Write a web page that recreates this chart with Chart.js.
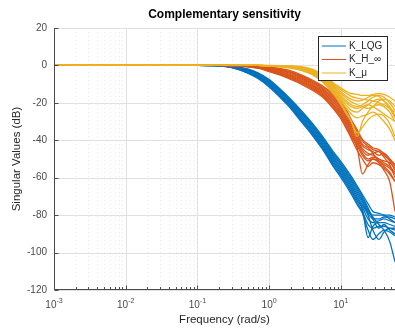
<!DOCTYPE html>
<html lang="en">
<head>
    <meta charset="UTF-8">
    <title>Complementary sensitivity</title>
    <script src="https://cdn.jsdelivr.net/npm/chart.js"></script>
    <style>
        body { margin: 0; background: #ffffff; }
        canvas { display: block; }
    </style>
</head>
<body>
    <canvas id="sigmaChart" width="395" height="330"></canvas>
    <script>
        // Frequency grid (rad/s) shared by every singular value curve
        const freq = [0.001, 0.1, 0.2, 0.3, 0.5, 0.7, 1, 1.4, 2, 2.8, 4, 5.6, 8, 10, 12, 14, 17, 20, 24, 28, 34, 40, 48, 57];

        // Singular values (dB), one row per curve
        const lqgCurves = [
            [0, 0, -0.2, -1.2, -4.1, -7.0, -11.5, -16.8, -23.0, -30.0, -37.3, -45.0, -54.5, -59.8, -64.5, -68.8, -74.5, -79, -88, -93, -90, -88, -89, -91],
            [0, 0, -0.2, -1.1, -3.9, -6.7, -11.1, -16.3, -22.4, -29.3, -36.5, -44.2, -53.6, -58.8, -63.5, -67.7, -73.4, -78, -85, -87, -86, -86, -87, -88],
            [0, 0, -0.2, -1.0, -3.6, -6.3, -10.6, -15.8, -21.9, -28.7, -35.8, -43.4, -52.7, -57.9, -62.5, -66.6, -72.3, -77, -92, -86, -84, -84, -85, -86],
            [0, 0, -0.1, -0.9, -3.4, -6.0, -10.2, -15.3, -21.3, -28.0, -35.1, -42.7, -51.8, -56.9, -61.5, -65.6, -71.2, -75.7, -82, -84, -83, -82, -83, -84],
            [0, 0, -0.1, -0.8, -3.1, -5.7, -9.7, -14.8, -20.8, -27.3, -34.4, -41.9, -50.9, -56.0, -60.5, -64.5, -70.1, -74.6, -80, -88, -93, -89, -87, -87],
            [0, 0, -0.1, -0.8, -2.9, -5.3, -9.3, -14.2, -20.2, -26.7, -33.6, -41.1, -50.1, -55.0, -59.5, -63.5, -68.9, -73.4, -79, -82, -82, -81, -81, -82],
            [0, 0, -0.1, -0.7, -2.6, -5.0, -8.8, -13.7, -19.7, -26.0, -32.9, -40.3, -49.2, -54.1, -58.5, -62.4, -67.8, -72.3, -78, -81, -85, -88, -94, -105],
            [0, 0, 0, -0.6, -2.4, -4.7, -8.4, -13.2, -19.1, -25.3, -32.2, -39.6, -48.3, -53.1, -57.5, -61.4, -66.7, -71.2, -77, -80, -80, -80, -80, -81],
            [0, 0, 0, -0.5, -2.1, -4.3, -7.9, -12.7, -18.6, -24.7, -31.5, -38.8, -47.4, -52.2, -56.5, -60.3, -65.6, -70.1, -76, -82, -87, -85, -88, -90],
            [0, 0, 0, -0.4, -1.9, -4.0, -7.5, -12.3, -18.0, -24.0, -30.8, -38.0, -46.5, -51.3, -55.5, -59.3, -64.5, -69, -74, -78, -79, -80, -82, -84]
        ];
        const hinfCurves = [
            [0, 0, 0, -0.2, -0.7, -1.5, -3.3, -5.1, -7.5, -10.0, -13.3, -17.0, -23.5, -28.5, -34.0, -39.0, -45.5, -50, -54, -52, -53, -55, -58, -62],
            [0, 0, 0, -0.2, -0.6, -1.4, -3.0, -4.7, -7.0, -9.4, -12.6, -16.3, -22.6, -27.5, -32.9, -37.9, -44.3, -58, -53, -50, -51, -53, -55, -58],
            [0, 0, 0, -0.2, -0.6, -1.2, -2.7, -4.3, -6.5, -8.9, -12.0, -15.7, -21.7, -26.5, -31.8, -36.8, -43.1, -48, -51, -50, -52, -56, -62, -78],
            [0, 0, 0, -0.1, -0.5, -1.1, -2.4, -3.9, -6.0, -8.3, -11.4, -15.0, -20.8, -25.5, -30.7, -35.7, -41.8, -47, -50, -49, -50, -52, -54, -57],
            [0, 0, 0, -0.1, -0.4, -1.0, -2.1, -3.5, -5.5, -7.8, -10.8, -14.3, -19.9, -24.5, -29.6, -34.6, -40.6, -45.5, -48, -47, -46, -49, -53, -60],
            [0, 0, 0, -0.1, -0.4, -0.8, -1.9, -3.1, -5.0, -7.2, -10.2, -13.7, -19.1, -23.5, -28.4, -33.4, -39.4, -44.5, -47, -48, -50, -51, -52, -55],
            [0, 0, 0, -0.1, -0.3, -0.7, -1.6, -2.7, -4.4, -6.7, -9.6, -13.0, -18.2, -22.5, -27.3, -32.3, -38.2, -43, -45, -46, -48, -47, -50, -54],
            [0, 0, 0, 0, -0.2, -0.6, -1.3, -2.3, -3.9, -6.1, -9.0, -12.3, -17.3, -21.5, -26.2, -31.2, -36.9, -42, -44, -47, -51, -54, -57, -62],
            [0, 0, 0, 0, -0.2, -0.4, -1.0, -1.9, -3.4, -5.6, -8.4, -11.7, -16.4, -20.5, -25.1, -30.1, -35.7, -40.5, -43, -45, -46, -48, -51, -56],
            [0, 0, 0, 0, -0.1, -0.3, -0.8, -1.6, -2.9, -5.0, -7.8, -11.0, -15.5, -19.5, -24.0, -29.0, -34.5, -39.5, -42, -44, -45, -47, -50, -53]
        ];
        const muCurves = [
            [0, 0, 0, 0, 0, 0, -0.3, -0.7, -1.4, -2.6, -5.0, -9.0, -15.5, -21, -26, -30, -36, -33, -29, -27, -26, -27, -31, -38],
            [0, 0, 0, 0, 0, 0, -0.3, -0.6, -1.3, -2.4, -4.7, -8.6, -14.8, -20, -25, -30, -38, -30, -25, -22, -21, -22, -25, -30],
            [0, 0, 0, 0, 0, 0, -0.3, -0.6, -1.1, -2.2, -4.3, -8.1, -14.2, -19, -23, -26, -28, -27, -26, -25, -27, -30, -34, -40],
            [0, 0, 0, 0, 0, 0, -0.2, -0.5, -1.0, -2.0, -4.0, -7.7, -13.5, -18, -21.5, -24, -25, -23, -21, -19, -18, -19, -22, -27],
            [0, 0, 0, 0, 0, 0, -0.2, -0.4, -0.9, -1.7, -3.7, -7.2, -12.8, -17, -20, -22, -23, -22, -21, -22, -24, -26, -28, -30],
            [0, 0, 0, 0, 0, 0, -0.2, -0.4, -0.7, -1.5, -3.3, -6.8, -12.2, -16, -19, -21, -22, -21, -19, -17, -16, -17, -20, -24],
            [0, 0, 0, 0, 0, 0, -0.1, -0.3, -0.6, -1.3, -3.0, -6.3, -11.5, -15, -17.5, -19.5, -21, -22, -23, -22, -19, -18, -19, -22],
            [0, 0, 0, 0, 0, 0, -0.1, -0.2, -0.5, -1.1, -2.7, -5.9, -10.8, -14, -16.5, -18, -19, -18.5, -17, -16, -16.5, -19, -23, -28],
            [0, 0, 0, 0, 0, 0, -0.1, -0.2, -0.4, -0.8, -2.3, -5.4, -10.2, -13, -15, -16.5, -17.5, -18, -18.5, -19, -20, -21, -23, -25],
            [0, 0, 0, 0, 0, 0, 0, -0.1, -0.3, -0.6, -2.0, -5.0, -9.5, -12, -14, -15, -15.5, -16, -16, -15.5, -15, -15.5, -17, -19]
        ];

        const seriesNames = ['K_LQG', 'K_H_\u221E', 'K_\u03BC'];
        const seriesColors = ['#0072BD', '#D95319', '#EDB120'];
        const yTicks = [-120, -100, -80, -60, -40, -20, 0, 20];
        const xDecades = [0.001, 0.01, 0.1, 1, 10];
        const xExponents = ['-3', '-2', '-1', '0', '1'];

        const FONT = '"Liberation Sans", Arial, Helvetica, sans-serif';
        const AXIS_COLOR = '#4a4a4a';

        // one dataset per curve, drawn with the family colour
        const datasets = [];
        [lqgCurves, hinfCurves, muCurves].forEach((family, s) => {
            family.forEach(curve => {
                datasets.push({
                    data: curve.map((v, i) => ({ x: freq[i], y: v })),
                    borderColor: seriesColors[s],
                    borderWidth: 1.3,
                    pointRadius: 0,
                    fill: false,
                    cubicInterpolationMode: 'monotone',
                    order: 3 - s
                });
            });
        });

        // MATLAB-like axes: grid under the lines, inward ticks, legend box
        const matlabAxes = {
            id: 'matlabAxes',
            beforeDatasetsDraw(chart) {
                const { ctx, chartArea: a, scales: { x, y } } = chart;
                ctx.save();
                ctx.lineWidth = 1;
                // minor x grid (dotted)
                ctx.strokeStyle = '#ebebeb';
                ctx.setLineDash([1, 3]);
                xDecades.forEach(d => {
                    for (let m = 2; m <= 9; m++) {
                        const v = d * m;
                        if (v > x.max) break;
                        const px = Math.round(x.getPixelForValue(v)) + 0.5;
                        ctx.beginPath();
                        ctx.moveTo(px, a.top);
                        ctx.lineTo(px, a.bottom);
                        ctx.stroke();
                    }
                });
                ctx.setLineDash([]);
                // major grid
                ctx.strokeStyle = '#e0e0e0';
                xDecades.forEach(d => {
                    const px = Math.round(x.getPixelForValue(d)) + 0.5;
                    ctx.beginPath();
                    ctx.moveTo(px, a.top);
                    ctx.lineTo(px, a.bottom);
                    ctx.stroke();
                });
                yTicks.forEach(t => {
                    const py = Math.round(y.getPixelForValue(t)) + 0.5;
                    ctx.beginPath();
                    ctx.moveTo(a.left, py);
                    ctx.lineTo(a.right, py);
                    ctx.stroke();
                });
                ctx.restore();
            },
            afterDatasetsDraw(chart) {
                const { ctx, chartArea: a, scales: { x, y } } = chart;
                ctx.save();
                ctx.lineWidth = 1;
                ctx.strokeStyle = AXIS_COLOR;
                const left = Math.round(a.left) + 0.5;
                const bottom = Math.round(a.bottom) - 0.5;
                ctx.beginPath();
                ctx.moveTo(left, a.top);
                ctx.lineTo(left, bottom);
                ctx.lineTo(a.right, bottom);
                ctx.stroke();

                // x ticks (major and minor), pointing into the axes
                xDecades.forEach(d => {
                    for (let m = 1; m <= 9; m++) {
                        const v = d * m;
                        if (v > x.max) break;
                        const px = Math.round(x.getPixelForValue(v)) + 0.5;
                        ctx.beginPath();
                        ctx.moveTo(px, bottom);
                        ctx.lineTo(px, bottom - (m === 1 ? 4 : 2.5));
                        ctx.stroke();
                    }
                });
                // y ticks
                yTicks.forEach(t => {
                    const py = Math.round(y.getPixelForValue(t)) + 0.5;
                    ctx.beginPath();
                    ctx.moveTo(left, py);
                    ctx.lineTo(left + 4, py);
                    ctx.stroke();
                });

                // tick labels
                ctx.fillStyle = AXIS_COLOR;
                ctx.font = '10px ' + FONT;
                ctx.textAlign = 'right';
                ctx.textBaseline = 'middle';
                yTicks.forEach(t => {
                    ctx.fillText(String(t), a.left - 7, y.getPixelForValue(t));
                });
                ctx.textBaseline = 'alphabetic';
                xDecades.forEach((d, i) => {
                    const px = x.getPixelForValue(d);
                    ctx.font = '10px ' + FONT;
                    const wBase = ctx.measureText('10').width;
                    ctx.font = '7px ' + FONT;
                    const wExp = ctx.measureText(xExponents[i]).width;
                    const start = px - (wBase + wExp) / 2;
                    ctx.textAlign = 'left';
                    ctx.font = '10px ' + FONT;
                    ctx.fillText('10', start, 308);
                    ctx.font = '7px ' + FONT;
                    ctx.fillText(xExponents[i], start + wBase, 303);
                });

                // axis titles and chart title
                const cx = (a.left + a.right) / 2;
                ctx.fillStyle = '#262626';
                ctx.textAlign = 'center';
                ctx.textBaseline = 'middle';
                ctx.font = '11.5px ' + FONT;
                ctx.fillText('Frequency (rad/s)', cx, 320);
                ctx.save();
                ctx.translate(17, (a.top + a.bottom) / 2);
                ctx.rotate(-Math.PI / 2);
                ctx.fillText('Singular Values (dB)', 0, 0);
                ctx.restore();
                ctx.fillStyle = '#000000';
                ctx.font = 'bold 12px ' + FONT;
                ctx.fillText('Complementary sensitivity', cx, 15);

                // legend box
                const bx = 318.5, by = 36.5, bw = 69, bh = 44;
                ctx.fillStyle = '#ffffff';
                ctx.fillRect(bx, by, bw, bh);
                ctx.strokeStyle = '#262626';
                ctx.strokeRect(bx, by, bw, bh);
                const rows = [46, 59.5, 73];
                ctx.font = '10px ' + FONT;
                ctx.textAlign = 'left';
                seriesNames.forEach((name, i) => {
                    ctx.strokeStyle = seriesColors[i];
                    ctx.lineWidth = 1;
                    ctx.beginPath();
                    ctx.moveTo(322, rows[i]);
                    ctx.lineTo(346, rows[i]);
                    ctx.stroke();
                    ctx.fillStyle = '#262626';
                    ctx.fillText(name, 349, rows[i]);
                });
                ctx.restore();
            }
        };

        new Chart(document.getElementById('sigmaChart'), {
            type: 'line',
            data: { datasets: datasets },
            options: {
                responsive: false,
                animation: false,
                devicePixelRatio: 1,
                layout: { padding: { top: 28, right: 0, bottom: 0, left: 0 } },
                elements: { line: { borderJoinStyle: 'round' } },
                scales: {
                    x: {
                        type: 'logarithmic',
                        min: 0.001,
                        max: 57,
                        ticks: { display: false },
                        grid: { display: false },
                        border: { display: false },
                        afterFit(scale) { scale.height = 40; }
                    },
                    y: {
                        type: 'linear',
                        min: -120,
                        max: 20,
                        ticks: { display: false },
                        grid: { display: false },
                        border: { display: false },
                        afterFit(scale) { scale.width = 54; }
                    }
                },
                plugins: {
                    legend: { display: false },
                    tooltip: { enabled: false }
                }
            },
            plugins: [matlabAxes]
        });
    </script>
</body>
</html>
